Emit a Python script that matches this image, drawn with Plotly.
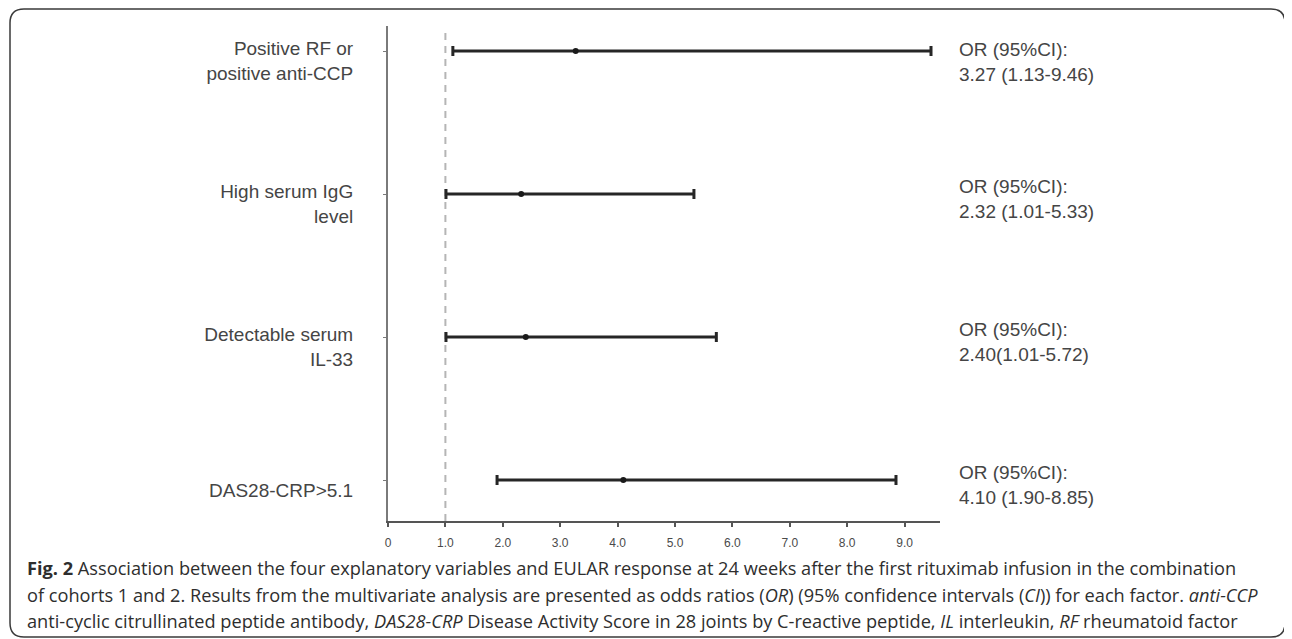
import plotly.graph_objects as go

# ---- data ----
factors = ["Positive RF or<br>positive anti-CCP", "High serum IgG<br>level",
           "Detectable serum<br>IL-33", "DAS28-CRP>5.1"]
odds_ratio = [3.27, 2.32, 2.40, 4.10]
ci_low = [1.13, 1.01, 1.01, 1.90]
ci_high = [9.46, 5.33, 5.72, 8.85]
or_text = ["OR (95%CI):<br>3.27 (1.13-9.46)", "OR (95%CI):<br>2.32 (1.01-5.33)",
           "OR (95%CI):<br>2.40(1.01-5.72)", "OR (95%CI):<br>4.10 (1.90-8.85)"]
row_pos = [4, 3, 2, 1]
x_ticks = [0, 1, 2, 3, 4, 5, 6, 7, 8, 9]
x_tick_labels = ["0", "1.0", "2.0", "3.0", "4.0", "5.0", "6.0", "7.0", "8.0", "9.0"]
ref_line = 1.0
caption_lines = [
    "<b>Fig. 2</b> Association between the four explanatory variables and EULAR response at 24 weeks after the first rituximab infusion in the combination",
    "of cohorts 1 and 2. Results from the multivariate analysis are presented as odds ratios (<i>OR</i>) (95% confidence intervals (<i>CI</i>)) for each factor. <i>anti-CCP</i>",
    "anti-cyclic citrullinated peptide antibody, <i>DAS28-CRP</i> Disease Activity Score in 28 joints by C-reactive peptide, <i>IL</i> interleukin, <i>RF</i> rheumatoid factor",
]

# ---- layout geometry (pixels, page coords; page body has an 8px margin) ----
OFF = 8
W, H = 1292 - OFF, 639 - OFF
L, R_edge, T, B_edge = 388 - OFF, 940 - OFF, 26 - OFF, 521 - OFF
pw, ph = R_edge - L, B_edge - T
unit_px = 57.4


def px(x):
    return (x - OFF - L) / pw


def py(y):
    return (B_edge - (y - OFF)) / ph


fig = go.Figure()

fig.add_trace(go.Scatter(
    x=odds_ratio, y=row_pos, mode="markers",
    marker=dict(color="#1a1a1a", size=6),
    error_x=dict(type="data", symmetric=False,
                 array=[h - o for h, o in zip(ci_high, odds_ratio)],
                 arrayminus=[o - l for o, l in zip(odds_ratio, ci_low)],
                 color="#262626", thickness=3, width=5),
    showlegend=False, hoverinfo="skip", cliponaxis=False,
))

shapes = []
shapes.append(dict(type="line", xref="x", yref="paper", x0=ref_line, x1=ref_line,
                   y0=0, y1=py(32), line=dict(color="#b5b5b5", width=2, dash="7px,6px"),
                   layer="below"))

# rounded border
x0, x1, y0, y1 = px(10), px(1285), py(9), py(637)
rx, ry = 14 / pw, 14 / ph
path = (f"M {x0+rx},{y0} L {x1-rx},{y0} Q {x1},{y0} {x1},{y0-ry} "
        f"L {x1},{y1+ry} Q {x1},{y1} {x1-rx},{y1} L {x0+rx},{y1} "
        f"Q {x0},{y1} {x0},{y1+ry} L {x0},{y0-ry} Q {x0},{y0} {x0+rx},{y0} Z")
shapes.append(dict(type="path", xref="paper", yref="paper", path=path,
                   line=dict(color="#3a3a3a", width=1.5)))

annotations = []
or_shift = [-11, -5, -5, -5]
for yv, t, s in zip(row_pos, or_text, or_shift):
    annotations.append(dict(x=px(957), xref="paper", y=yv, yref="y", text=t,
                            showarrow=False, xanchor="left", yanchor="middle", align="left",
                            yshift=s,
                            font=dict(family="Liberation Sans, Arial", size=19, color="#454545")))

cap_y = [568, 595, 621]
for line, yy in zip(caption_lines, cap_y):
    annotations.append(dict(x=px(25), xref="paper", y=py(yy), yref="paper", text=line,
                            showarrow=False, xanchor="left", yanchor="middle", align="left",
                            font=dict(family="Open Sans", size=18.2, color="#2e2e2e")))

fig.update_layout(
    width=W, height=H,
    margin=dict(l=L, r=W - R_edge, t=T, b=H - B_edge, pad=0),
    paper_bgcolor="white", plot_bgcolor="white",
    shapes=shapes, annotations=annotations,
    xaxis=dict(range=[0, pw / unit_px], tickvals=x_ticks, ticktext=x_tick_labels,
               showline=True, linecolor="#555555", linewidth=2, ticks="outside",
               ticklen=4, tickwidth=2, tickcolor="#555555", showgrid=False, zeroline=False,
               tickfont=dict(family="Liberation Sans Narrow, Liberation Sans, Arial", size=12,
                             color="#4a4a4a"),
               ticklabelstandoff=6, fixedrange=True),
    yaxis=dict(range=[1 - 41 / 143, 4 + 25 / 143], tickvals=row_pos, ticktext=factors,
               showline=True, linecolor="#7a7a7a", linewidth=2, ticks="outside",
               ticklen=3, tickcolor="#7a7a7a", showgrid=False, zeroline=False,
               tickfont=dict(family="Liberation Sans, Arial", size=19, color="#454545"),
               ticklabelstandoff=26, ticklabelshift=10, fixedrange=True),
)

fig.write_html("out.html")
